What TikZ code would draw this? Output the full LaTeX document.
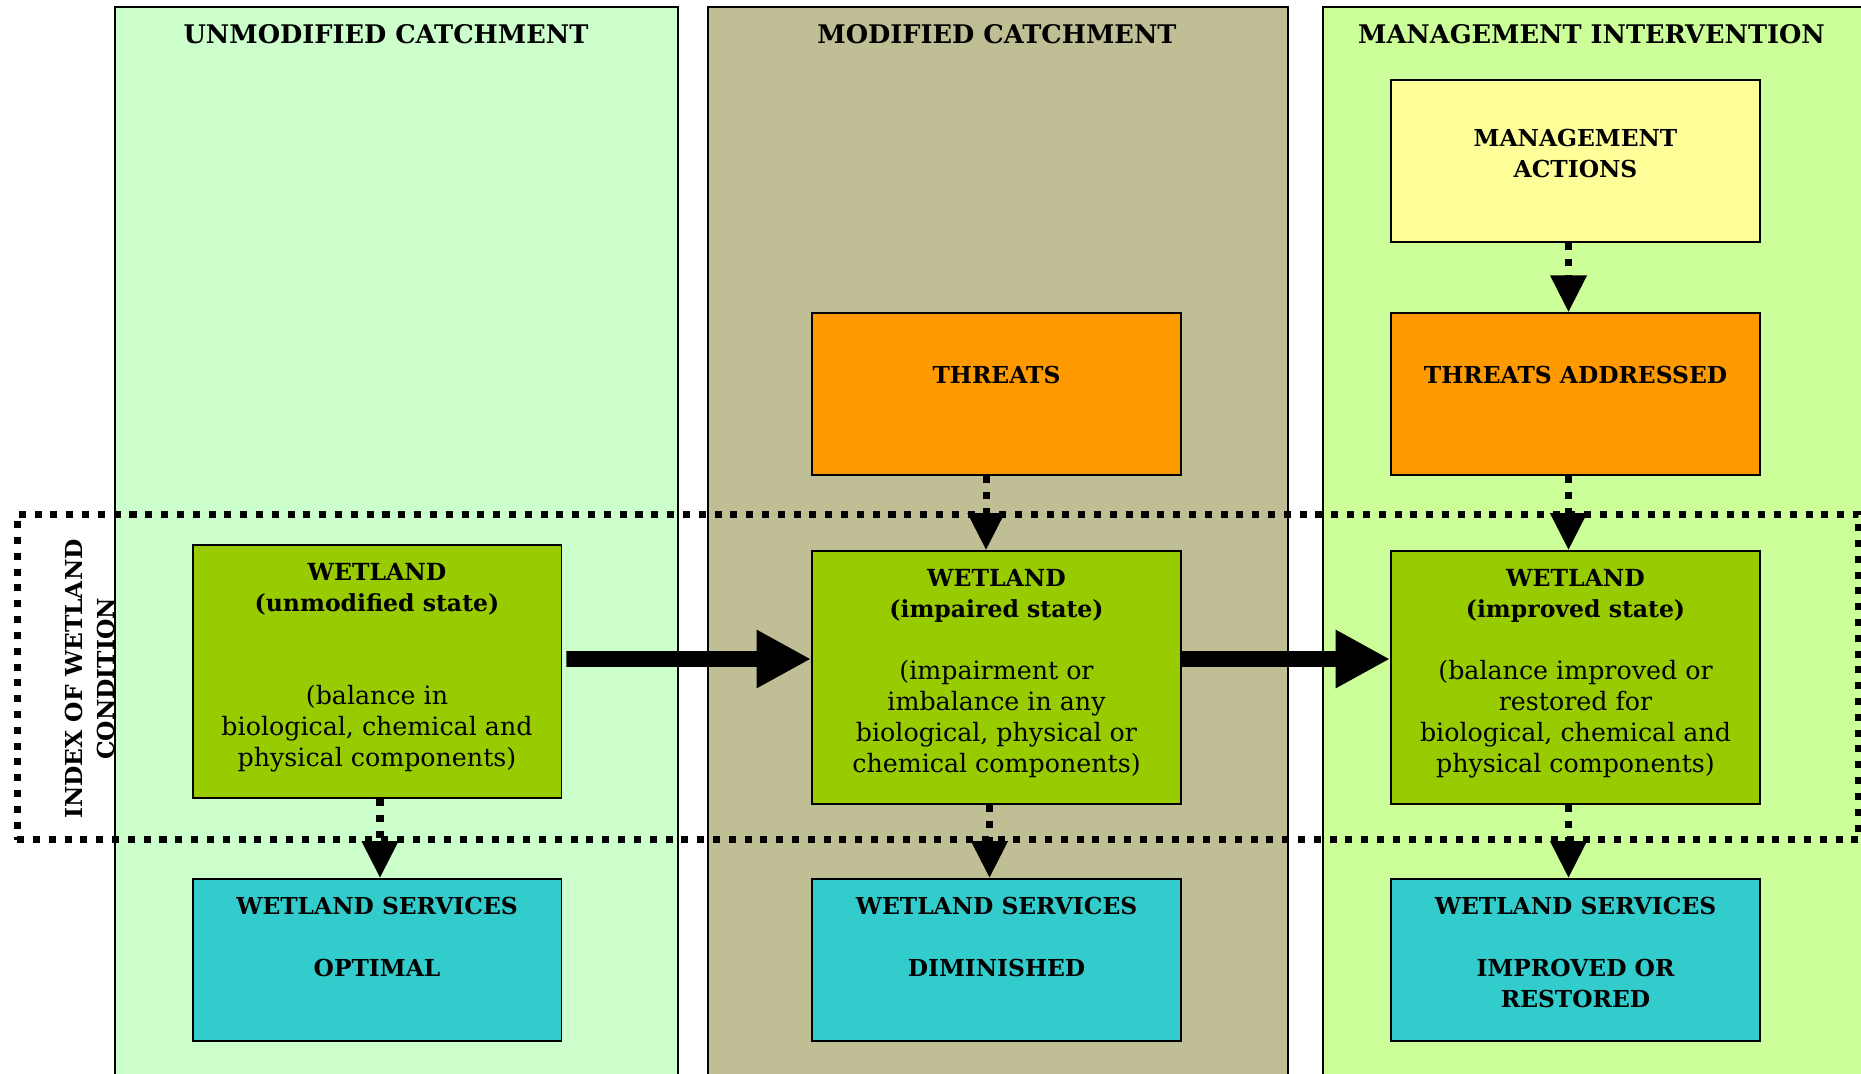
\documentclass[tikz,border=0pt]{standalone}
\usepackage{fontspec}
\setmainfont{DejaVu Serif}
\usetikzlibrary{
  arrows.meta,
  positioning,
}
\definecolor{paleGreen}{RGB}{204,255,204}
\definecolor{khaki}{RGB}{192,190,148}
\definecolor{limeGreen}{RGB}{204,255,153}
\definecolor{paleYellow}{RGB}{255,255,153}
\definecolor{threatOrange}{RGB}{255,153,0}
\definecolor{wetGreen}{RGB}{153,204,0}
\definecolor{serviceTeal}{RGB}{51,204,204}
\newcommand{\heavy}[1]{{\fontsize{13.4}{17.6}\selectfont\bfseries #1}}
\newcommand{\lowstrut}[1]{\rule[-#1]{0pt}{#1}}
\tikzset{
  >={Triangle[length=21pt,width=20pt]},
  panel/.style={rectangle,draw,line width=1.1pt,anchor=north west,minimum height=22cm},
  box/.style={rectangle,draw,line width=1.1pt,minimum width=7.38cm,minimum height=3.24cm,
    align=center,font=\fontsize{14.4}{17.6}\selectfont},
  boldbox/.style={box,font=\fontsize{13.3}{17.6}\selectfont\bfseries},
  heading/.style={font=\fontsize{14.6}{18}\selectfont\bfseries},
  dotline/.style={line width=4pt,dash pattern=on 4pt off 5pt},
  bigarrow/.style={line width=9pt,-{Triangle[length=31pt,width=31pt]}},
}

\begin{document}
\begin{tikzpicture}[x=0.02cm,y=-0.02cm,node distance=1.46cm]
  \useasboundingbox (0,0) rectangle (1861,1074);
  \clip (0,0) rectangle (1861,1074);

  % side label, partly hidden by the first column
  \node[rotate=90,align=center,font=\fontsize{13.3}{18.2}\selectfont\bfseries] (index) at (90,679) {INDEX OF WETLAND\\CONDITION};

  \node[panel,fill=paleGreen,minimum width=11.26cm] (column1) at (114,6) {};
  \node[panel,fill=khaki,minimum width=11.6cm] (column2) at (707,6) {};
  \node[panel,fill=limeGreen,minimum width=12cm] (column3) at (1322,6) {};

  \node[heading] (head1) at (386,34) {UNMODIFIED CATCHMENT};
  \node[heading] (head2) at (997,34) {MODIFIED CATCHMENT};
  \node[heading] (head3) at (1591.5,34) {MANAGEMENT INTERVENTION};

  \node[draw,dotline,minimum width=36.84cm,minimum height=6.52cm] (zone) at (938,677) {};

  \node[box,fill=wetGreen,minimum height=5.06cm] (wetland1) at (377,671.5)
    {\heavy{WETLAND}\\\heavy{(unmodified state)}\\~\\~\\(balance in\\biological, chemical and\\physical components)\lowstrut{7.4pt}};
  \node[box,fill=wetGreen,minimum height=5.06cm] (wetland2) at (996.5,677.5)
    {\heavy{WETLAND}\\\heavy{(impaired state)}\\~\\(impairment or\\imbalance in any\\biological, physical or\\chemical components)\lowstrut{7.4pt}};
  \node[box,fill=wetGreen,minimum height=5.06cm] (wetland3) at (1575.5,677.5)
    {\heavy{WETLAND}\\\heavy{(improved state)}\\~\\(balance improved or\\restored for\\biological, chemical and\\physical components)\lowstrut{7.4pt}};

  \node[boldbox,fill=threatOrange] (threats2) [above=1.48cm of wetland2] {THREATS\lowstrut{22pt}};
  \node[boldbox,fill=threatOrange] (threats3) [above=1.48cm of wetland3] {THREATS ADDRESSED\lowstrut{22pt}};
  \node[boldbox,fill=paleYellow] (actions3) [above=1.38cm of threats3] {MANAGEMENT\\ACTIONS\lowstrut{9pt}};

  \node[boldbox,fill=serviceTeal] (services1) [below=1.58cm of wetland1] {WETLAND SERVICES\\~\\OPTIMAL\lowstrut{26pt}};
  \node[boldbox,fill=serviceTeal] (services2) [below=of wetland2] {WETLAND SERVICES\\~\\DIMINISHED\lowstrut{26pt}};
  \node[boldbox,fill=serviceTeal] (services3) [below=of wetland3] {WETLAND SERVICES\\~\\IMPROVED OR\\RESTORED\lowstrut{8.5pt}};

  \draw[dotline,->] ([xshift=0.06cm]wetland1.south) -- ([xshift=0.06cm]services1.north);
  \draw[dotline,->] ([xshift=-0.21cm]threats2.south) -- ([xshift=-0.21cm]wetland2.north);
  \draw[dotline,->] ([xshift=-0.14cm]wetland2.south) -- ([xshift=-0.14cm]services2.north);
  \draw[dotline,->] ([xshift=-0.14cm]actions3.south) -- ([xshift=-0.14cm]threats3.north);
  \draw[dotline,->] ([xshift=-0.14cm]threats3.south) -- ([xshift=-0.14cm]wetland3.north);
  \draw[dotline,->] ([xshift=-0.14cm]wetland3.south) -- ([xshift=-0.14cm]services3.north);

  \draw[bigarrow] ([xshift=0.08cm,yshift=0.25cm]wetland1.east) -- ([yshift=0.37cm]wetland2.west);
  \draw[bigarrow] ([yshift=0.37cm]wetland2.east) -- ([yshift=0.37cm]wetland3.west);

\end{tikzpicture}
\end{document}
